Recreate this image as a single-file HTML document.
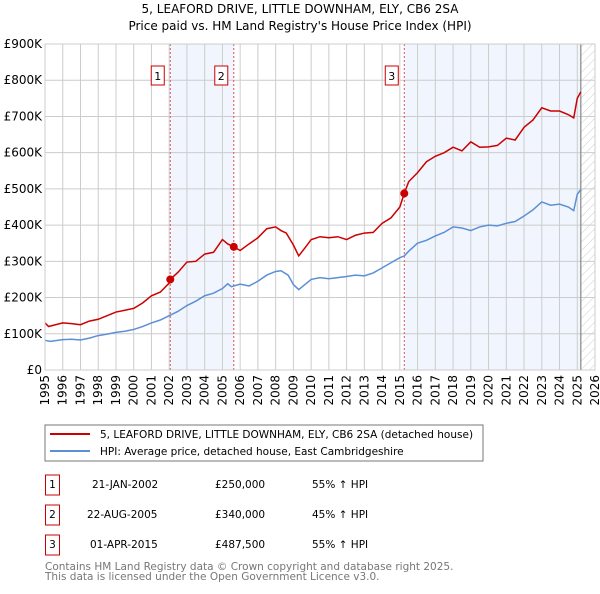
<!DOCTYPE html>
<html><head><meta charset="utf-8"><style>
body{margin:0;background:#fff;font-family:"DejaVu Sans","Liberation Sans",sans-serif;}
svg text{font-family:"DejaVu Sans","Liberation Sans",sans-serif;}
</style></head><body>
<svg id="c" width="600" height="590" xmlns="http://www.w3.org/2000/svg">
<defs><pattern id="hatch" width="6" height="6" patternUnits="userSpaceOnUse" patternTransform="rotate(45)"><line x1="0" y1="0" x2="0" y2="6" stroke="#ccc" stroke-width="1"/></pattern></defs>
<text x="300" y="13" font-size="12" text-anchor="middle">5, LEAFORD DRIVE, LITTLE DOWNHAM, ELY, CB6 2SA</text>
<text x="300" y="30" font-size="12" text-anchor="middle">Price paid vs. HM Land Registry's House Price Index (HPI)</text>
<g id="plot"></g>
<rect x="45" y="425" width="438" height="36" fill="#fff" stroke="#777"/>
<line x1="50" y1="434" x2="90" y2="434" stroke="#cc0000" stroke-width="2"/>
<text x="100" y="438" font-size="10.5">5, LEAFORD DRIVE, LITTLE DOWNHAM, ELY, CB6 2SA (detached house)</text>
<line x1="50" y1="451" x2="90" y2="451" stroke="#5b8fd6" stroke-width="2"/>
<text x="100" y="455" font-size="10.5">HPI: Average price, detached house, East Cambridgeshire</text>
<g font-size="10.5">
<rect x="45.5" y="475" width="14" height="20" fill="#fff" stroke="#cc0000"/><text x="52.5" y="488" text-anchor="middle">1</text>
<text x="92" y="488">21-JAN-2002</text><text x="215" y="488">£250,000</text><text x="312" y="488">55% ↑ HPI</text>
<rect x="45.5" y="505" width="14" height="20" fill="#fff" stroke="#cc0000"/><text x="52.5" y="518" text-anchor="middle">2</text>
<text x="87" y="518">22-AUG-2005</text><text x="215" y="518">£340,000</text><text x="312" y="518">45% ↑ HPI</text>
<rect x="45.5" y="535" width="14" height="20" fill="#fff" stroke="#cc0000"/><text x="52.5" y="548" text-anchor="middle">3</text>
<text x="90" y="548">01-APR-2015</text><text x="215" y="548">£487,500</text><text x="312" y="548">55% ↑ HPI</text>
</g>
<text x="45" y="570" font-size="10.5" fill="#777">Contains HM Land Registry data © Crown copyright and database right 2025.</text>
<text x="45" y="580" font-size="10.5" fill="#777">This data is licensed under the Open Government Licence v3.0.</text>
</svg>
<script>
const hpiYears=[1995,1995.3,1996,1996.5,1997,1997.5,1998,1998.5,1999,1999.5,2000,2000.5,2001,2001.5,2002,2002.5,2003,2003.5,2004,2004.5,2005,2005.3,2005.5,2006,2006.5,2007,2007.5,2008,2008.3,2008.7,2009,2009.3,2009.7,2010,2010.5,2011,2011.5,2012,2012.5,2013,2013.5,2014,2014.5,2015,2015.25,2015.5,2016,2016.5,2017,2017.5,2018,2018.5,2019,2019.5,2020,2020.5,2021,2021.5,2022,2022.5,2023,2023.5,2024,2024.5,2024.8,2025,2025.2];
const hpiValues=[82,79,84,85,83,88,95,99,104,107,112,120,130,138,150,162,178,190,205,212,225,238,230,237,232,245,262,272,274,262,236,222,238,250,255,252,255,258,262,260,268,282,296,310,315,328,350,358,370,380,395,392,385,395,400,398,405,410,425,442,464,455,458,450,440,485,498];
const priceYears=[1995,1995.2,1996,1996.5,1997,1997.5,1998,1998.5,1999,1999.5,2000,2000.5,2001,2001.5,2002,2002.06,2002.5,2003,2003.5,2004,2004.5,2005,2005.3,2005.64,2006,2006.5,2007,2007.5,2008,2008.3,2008.6,2009,2009.3,2009.7,2010,2010.5,2011,2011.5,2012,2012.5,2013,2013.5,2014,2014.5,2015,2015.25,2015.5,2016,2016.5,2017,2017.5,2018,2018.5,2019,2019.5,2020,2020.5,2021,2021.5,2022,2022.5,2023,2023.5,2024,2024.5,2024.8,2025,2025.2];
const priceValues=[130,120,130,128,125,135,140,150,160,165,170,185,205,215,240,250,270,298,300,320,325,360,348,340,330,348,365,390,395,385,378,345,315,340,360,368,365,368,360,372,378,380,405,420,450,487.5,520,545,575,590,600,615,605,630,615,616,620,640,635,670,690,724,715,715,705,696,750,768];
const saleYears=[2002.06,2005.64,2015.25];
const saleValues=[250,340,487.5];
const saleLabels=["1","2","3"];
const yTicks=[0,100,200,300,400,500,600,700,800,900];
const yTickLabels=["£0","£100K","£200K","£300K","£400K","£500K","£600K","£700K","£800K","£900K"];
const xTicks=[1995,1996,1997,1998,1999,2000,2001,2002,2003,2004,2005,2006,2007,2008,2009,2010,2011,2012,2013,2014,2015,2016,2017,2018,2019,2020,2021,2022,2023,2024,2025,2026];
const dataEnd=2025.2;
const L=45,R=595,T=44,B=370,x0=1995,x1=2026,ymax=900;
const X=v=>L+(v-x0)/(x1-x0)*(R-L);
const Y=v=>B-v/ymax*(B-T);
const NS="http://www.w3.org/2000/svg";
const g=document.getElementById('plot');
function mk(t,a){const e=document.createElementNS(NS,t);for(const k in a)e.setAttribute(k,a[k]);g.appendChild(e);return e;}
let e;
e=mk('rect',{x:X(saleYears[0]),y:T,width:X(saleYears[1])-X(saleYears[0]),height:B-T,fill:'#eef3fc',opacity:0.8});


e=mk('rect',{x:X(saleYears[2]),y:T,width:X(dataEnd)-X(saleYears[2]),height:B-T,fill:'#eef3fc',opacity:0.8});


e=mk('rect',{x:X(dataEnd),y:T,width:R-X(dataEnd),height:B-T,fill:'url(#hatch)'});


yTicks.forEach((v,i)=>{
 e=mk('line',{x1:L,x2:R,y1:Y(v),y2:Y(v),stroke:'#ccc'});
 
 
 e=mk('text',{x:L-3,y:Y(v)+4,'font-size':12,'text-anchor':'end'});e.textContent=yTickLabels[i];
 
 
});
xTicks.forEach(v=>{
 e=mk('line',{x1:X(v),x2:X(v),y1:T,y2:B,stroke:'#ccc'});
 
 
 e=mk('text',{x:0,y:0,'font-size':12,'text-anchor':'end',transform:`translate(${X(v)+4},${B+5}) rotate(-90)`});e.textContent=v;
 
 
});
e=mk('line',{x1:X(dataEnd),x2:X(dataEnd),y1:T,y2:B,stroke:'#888','stroke-width':1.2});


saleYears.forEach((v,i)=>{
 e=mk('line',{x1:X(v),x2:X(v),y1:T,y2:B,stroke:'#e05050','stroke-dasharray':'2,2'});
 
 
 e=mk('rect',{x:X(v)-19,y:66,width:13,height:19,fill:'#fff',stroke:'#cc0000'});
 
 
 e=mk('text',{x:X(v)-12.5,y:80,'font-size':11,'text-anchor':'middle'});e.textContent=saleLabels[i];
 
 
});
e=mk('polyline',{points:hpiYears.map((y,i)=>X(y)+','+Y(hpiValues[i])).join(' '),fill:'none',stroke:'#5b8fd6','stroke-width':1.5});


e=mk('polyline',{points:priceYears.map((y,i)=>X(y)+','+Y(priceValues[i])).join(' '),fill:'none',stroke:'#cc0000','stroke-width':1.5});


saleYears.forEach((v,i)=>{
 e=mk('circle',{cx:X(v),cy:Y(saleValues[i]),r:4,fill:'#cc0000'});
 
 
});
e=mk('rect',{x:L,y:T,width:R-L,height:B-T,fill:'none',stroke:'#ccc'});


</script>
</body></html>
